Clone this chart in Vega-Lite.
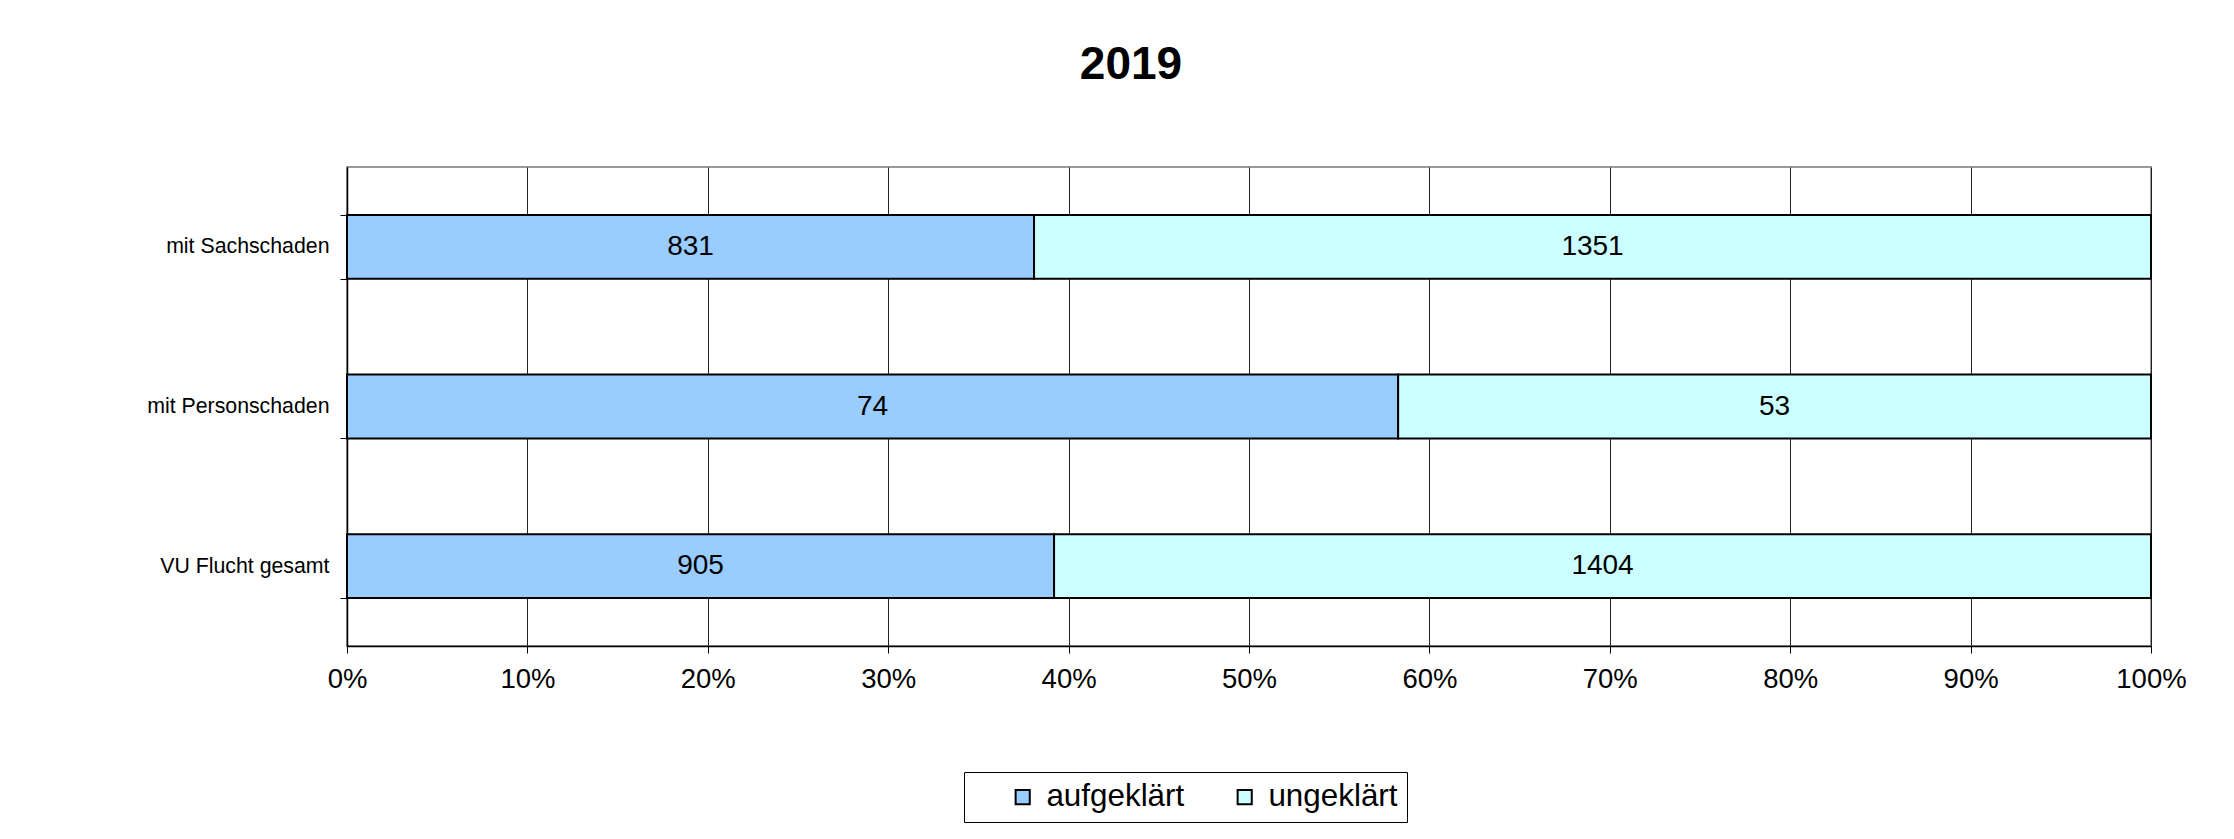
{
  "$schema": "https://vega.github.io/schema/vega-lite/v6.json",
  "width": 1804,
  "height": 479,
  "autosize": {"type": "none"},
  "padding": {"left": 347, "top": 167, "right": 83, "bottom": 193},
  "background": "white",
  "title": {
    "text": "2019",
    "fontSize": 46,
    "fontWeight": "bold",
    "font": "Liberation Sans",
    "color": "black",
    "anchor": "middle",
    "dx": -118,
    "baseline": "alphabetic",
    "offset": 31
  },
  "config": {
    "font": "Liberation Sans",
    "view": {"stroke": "#999999", "strokeWidth": 2}
  },
  "data": {
    "values": [
      {"category": "mit Sachschaden", "status": "aufgeklärt", "value": 831},
      {"category": "mit Sachschaden", "status": "ungeklärt", "value": 1351},
      {"category": "mit Personschaden", "status": "aufgeklärt", "value": 74},
      {"category": "mit Personschaden", "status": "ungeklärt", "value": 53},
      {"category": "VU Flucht gesamt", "status": "aufgeklärt", "value": 905},
      {"category": "VU Flucht gesamt", "status": "ungeklärt", "value": 1404}
    ]
  },
  "transform": [
    {"stack": "value", "groupby": ["category"], "sort": [{"field": "status", "order": "ascending"}], "offset": "normalize", "as": ["v0", "v1"]},
    {"calculate": "(datum.v0 + datum.v1) / 2", "as": "mid"}
  ],
  "encoding": {
    "y": {
      "field": "category",
      "type": "nominal",
      "sort": ["mit Sachschaden", "mit Personschaden", "VU Flucht gesamt"],
      "scale": {"paddingInner": 0.6, "paddingOuter": 0.3},
      "axis": {
        "title": null,
        "tickBand": "extent",
        "tickSize": 7,
        "tickColor": "#000000",
        "domainColor": "#000000",
        "domainWidth": 1.5,
        "labelFontSize": 21.3,
        "labelColor": "#000000",
        "labelPadding": 11,
        "labelLimit": 400,
        "grid": false
      }
    }
  },
  "layer": [
    {
      "mark": {"type": "bar", "stroke": "#000000", "strokeWidth": 2},
      "encoding": {
        "x": {
          "field": "v0",
          "type": "quantitative",
          "scale": {"domain": [0, 1], "nice": false},
          "axis": {
            "title": null,
            "format": ".0%",
            "values": [0, 0.1, 0.2, 0.3, 0.4, 0.5, 0.6, 0.7, 0.8, 0.9, 1],
            "grid": true,
            "gridColor": "#222222",
            "gridWidth": 1,
            "gridOpacity": 1,
            "tickSize": 7,
            "tickColor": "#000000",
            "domainColor": "#000000",
            "domainWidth": 1.5,
            "labelFontSize": 27.5,
            "labelColor": "#000000",
            "labelPadding": 12,
            "labelFlush": false
          }
        },
        "x2": {"field": "v1"},
        "color": {
          "field": "status",
          "type": "nominal",
          "scale": {"domain": ["aufgeklärt", "ungeklärt"], "range": ["#99CCFF", "#CCFFFF"]},
          "legend": {
            "title": " ",
            "titleOrient": "left",
            "titleFontSize": 1,
            "titlePadding": 34,
            "orient": "none",
            "legendX": 617,
            "legendY": 605,
            "direction": "horizontal",
            "strokeColor": "#000000",
            "padding": 9,
            "symbolType": "square",
            "symbolSize": 200,
            "symbolStrokeColor": "#000000",
            "symbolStrokeWidth": 2,
            "symbolOpacity": 1,
            "labelFontSize": 31.4,
            "labelColor": "#000000",
            "labelOffset": 8,
            "columnPadding": 44,
            "columns": 2,
            "gridAlign": "all"
          }
        }
      }
    },
    {
      "mark": {"type": "text", "fontSize": 28, "color": "#000000", "align": "center", "baseline": "middle"},
      "encoding": {
        "x": {"field": "mid", "type": "quantitative"},
        "text": {"field": "value", "type": "quantitative"}
      }
    }
  ]
}
